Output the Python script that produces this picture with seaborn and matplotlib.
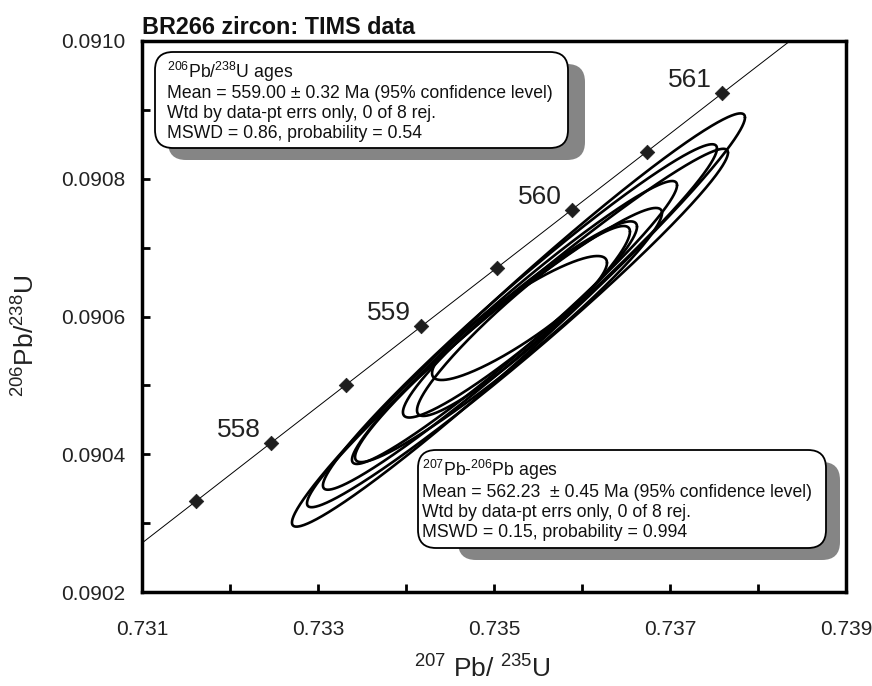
import numpy as np
import pandas as pd
import matplotlib
matplotlib.use("Agg")
import matplotlib.pyplot as plt
import seaborn as sns
from matplotlib.patches import FancyBboxPatch
from matplotlib.transforms import IdentityTransform

# ---------------- data ----------------
# concordia age marks (Ma) and their 207Pb/235U, 206Pb/238U positions
marker_ages = [557.5, 558.0, 558.5, 559.0, 559.5, 560.0, 560.5, 561.0]
marker_x = [0.731614, 0.732466, 0.733321, 0.734174, 0.735029, 0.735883, 0.736739, 0.737593]
marker_y = [0.0903319, 0.0904165, 0.0905011, 0.0905857, 0.0906703, 0.0907549, 0.0908395, 0.0909241]
labelled_ages = [558.0, 559.0, 560.0, 561.0]
# concordia trace (ends at 557.0 and 561.5 Ma)
concordia_x = [0.730761] + marker_x + [0.738451]
concordia_y = [0.0902474] + marker_y + [0.0910087]

# zircon analyses: ratio, 2-sigma error, error correlation
ell_x = [0.735278, 0.735267, 0.735295, 0.735233, 0.735165, 0.735295, 0.735335, 0.735290]
ell_x2s = [0.002574, 0.002392, 0.002239, 0.001847, 0.001744, 0.001330, 0.001210, 0.000994]
ell_y = [0.0905949, 0.0905833, 0.0905993, 0.0905913, 0.0905731, 0.0905957, 0.0905935, 0.0905978]
ell_y2s = [0.0003000, 0.0002602, 0.0002508, 0.0002054, 0.0001845, 0.0001424, 0.0001379, 0.0000900]
ell_rho = [0.980, 0.978, 0.975, 0.970, 0.960, 0.945, 0.940, 0.890]

x_ticks = [0.731, 0.733, 0.735, 0.737, 0.739]
x_tick_labels = ["0.731", "0.733", "0.735", "0.737", "0.739"]
y_ticks = [0.0902, 0.0904, 0.0906, 0.0908, 0.0910]
y_tick_labels = ["0.0902", "0.0904", "0.0906", "0.0908", "0.0910"]

title = "BR266 zircon: TIMS data"
box1_lines = [r"$\mathregular{^{206}Pb/^{238}U}$ ages",
              "Mean = 559.00 \u00b1 0.32 Ma (95% confidence level)",
              "Wtd by data-pt errs only, 0 of 8 rej.",
              "MSWD = 0.86, probability = 0.54"]
box2_lines = [r"$\mathregular{^{207}Pb}$-$\mathregular{^{206}Pb}$ ages",
              "Mean = 562.23  \u00b1 0.45 Ma (95% confidence level)",
              "Wtd by data-pt errs only, 0 of 8 rej.",
              "MSWD = 0.15, probability = 0.994"]

# ---------------- style ----------------
sns.set_theme(style="white")
plt.rcParams["font.family"] = ["Liberation Sans", "DejaVu Sans"]
plt.rcParams["mathtext.fontset"] = "custom"
plt.rcParams["mathtext.rm"] = "Liberation Sans"
plt.rcParams["mathtext.it"] = "Liberation Sans:italic"
plt.rcParams["mathtext.bf"] = "Liberation Sans:bold"

W, H = 872, 686
fig = plt.figure(figsize=(W / 100, H / 100), dpi=100)
L, R, T, B = 142, 846, 41, 592
ax = fig.add_axes([L / W, 1 - B / H, (R - L) / W, (B - T) / H])

# ellipses
t = np.linspace(0, 2 * np.pi, 721)
rows = []
for i in range(len(ell_x)):
    ex = ell_x[i] + ell_x2s[i] * np.cos(t)
    ey = ell_y[i] + ell_y2s[i] * (ell_rho[i] * np.cos(t) + np.sqrt(1 - ell_rho[i] ** 2) * np.sin(t))
    rows.append(pd.DataFrame({"x": ex, "y": ey, "id": i}))
ell_df = pd.concat(rows, ignore_index=True)
sns.lineplot(data=ell_df, x="x", y="y", units="id", estimator=None, sort=False,
             color="black", lw=1.9, ax=ax, legend=False, zorder=3)

# concordia
conc_df = pd.DataFrame({"x": concordia_x, "y": concordia_y})
sns.lineplot(data=conc_df, x="x", y="y", sort=False, estimator=None,
             color="black", lw=0.7, ax=ax, zorder=2)
mk_df = pd.DataFrame({"x": marker_x, "y": marker_y})
sns.scatterplot(data=mk_df, x="x", y="y", marker="D", s=55, color="#1e1e1e",
                edgecolor="#1e1e1e", linewidth=0.5, ax=ax, zorder=4)
for age in labelled_ages:
    k = marker_ages.index(age)
    ax.annotate(f"{age:.0f}", (marker_x[k], marker_y[k]), xytext=(-23, 9.5),
                textcoords="offset points", ha="center", va="center",
                fontsize=19, color="#222222", zorder=5)

ax.set_xlim(0.731, 0.739)
ax.set_ylim(0.0902, 0.0910)
ax.set_xticks(x_ticks)
ax.set_xticklabels(x_tick_labels)
ax.set_yticks(y_ticks)
ax.set_yticklabels(y_tick_labels)
ax.set_xticks(np.arange(0.732, 0.7385, 0.002), minor=True)
ax.set_yticks(np.arange(0.0903, 0.09095, 0.0002), minor=True)
ax.tick_params(axis="both", which="both", direction="in", width=2, color="black",
               bottom=True, left=True, top=False, right=False)
ax.tick_params(axis="both", which="major", length=6, labelsize=15, labelcolor="#222222")
ax.tick_params(axis="both", which="minor", length=6)
ax.tick_params(axis="x", which="major", pad=20)
ax.tick_params(axis="y", which="major", pad=12)
ax.set_xlabel("")
ax.set_ylabel("")
for sp in ax.spines.values():
    sp.set_linewidth(2.5)
    sp.set_color("black")
    sp.set_visible(True)
ax.grid(False)

# text boxes (pixel coordinates measured from the top-left)
def box(x0, y0, x1, y1, sh_x0, sx, sy):
    ident = IdentityTransform()
    shadow = FancyBboxPatch((sh_x0, H - (y1 + sy)), (x1 + sx - sh_x0), (y1 - y0),
                            boxstyle="round,pad=0,rounding_size=18", transform=ident,
                            facecolor="#858585", edgecolor="none", zorder=6)
    main = FancyBboxPatch((x0, H - y1), (x1 - x0), (y1 - y0),
                          boxstyle="round,pad=0,rounding_size=18", transform=ident,
                          facecolor="white", edgecolor="black", lw=1.3, zorder=7)
    fig.patches.extend([shadow, main])

box(155, 52, 568, 148, 168, 17, 12)
box(418, 450, 826, 548, 458, 14, 12)

ident = IdentityTransform()
for s, yb in zip(box1_lines, [78, 98, 118, 138]):
    fig.text(167, H - yb, s, transform=ident, fontsize=12.7, va="baseline", ha="left",
             color="#111111", zorder=8)
for s, yb in zip(box2_lines, [476, 497, 517, 537]):
    fig.text(422, H - yb, s, transform=ident, fontsize=12.7, va="baseline", ha="left",
             color="#111111", zorder=8)

fig.text(142, H - 34, title, transform=ident, fontsize=16.8, fontweight="bold",
         va="baseline", ha="left", color="#111111")

fig.text(482, H - 678, r"$\mathregular{^{207}}$ Pb/ $\mathregular{^{235}}$U", transform=ident,
         fontsize=19, va="baseline", ha="center", color="#222222")
fig.text(26, H - 336, r"$\mathregular{^{206}}$Pb/$\mathregular{^{238}}$U", transform=ident,
         fontsize=19, va="center", ha="center", rotation=90, color="#222222")

fig.savefig("out.png", dpi=100)
